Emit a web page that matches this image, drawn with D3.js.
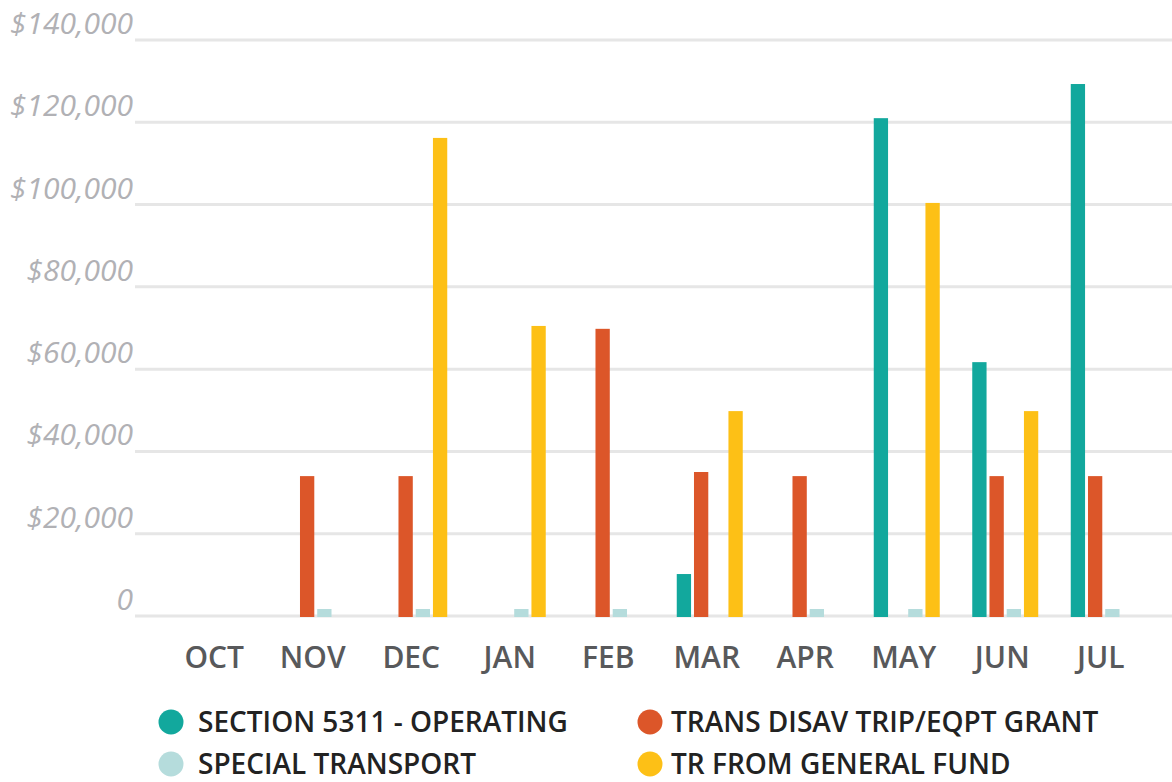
<!DOCTYPE html>
<html>
<head>
<meta charset="utf-8">
<script src="https://cdn.jsdelivr.net/npm/d3@7"></script>
<style>
  html, body { margin: 0; padding: 0; background: #fff; }
  svg { display: block; }
  .ytick { font-family: "Open Sans", sans-serif; font-style: italic; font-size: 30px; fill: #b1b1b5; }
  .xtick { font-family: "Open Sans", sans-serif; font-weight: 600; font-size: 30px; fill: #58595b; }
  .legend text { font-family: "Open Sans", sans-serif; font-weight: 600; font-size: 28px; fill: #222; }
</style>
</head>
<body>
<div id="chart"></div>
<script>
  // months on the x axis
  var months = ['OCT', 'NOV', 'DEC', 'JAN', 'FEB', 'MAR', 'APR', 'MAY', 'JUN', 'JUL'];

  // one array per funding source, same order as months
  var section5311 = [0, 0, 0, 0, 0, 10200, 0, 121000, 61700, 129300];
  var transDisav = [0, 34000, 34000, 0, 69800, 35000, 34000, 0, 34000, 34000];
  var specialTransport = [0, 1700, 1700, 1700, 1700, 0, 1700, 1700, 1700, 1700];
  var generalFund = [0, 0, 116200, 70500, 0, 49800, 0, 100400, 49800, 0];

  var seriesNames = ['SECTION 5311 - OPERATING', 'TRANS DISAV TRIP/EQPT GRANT', 'SPECIAL TRANSPORT', 'TR FROM GENERAL FUND'];
  var seriesColors = ['#12a89d', '#dc5629', '#b5dcdc', '#fdc016'];
  var yTicks = [0, 20000, 40000, 60000, 80000, 100000, 120000, 140000];

  var series = [section5311, transDisav, specialTransport, generalFund];

  var width = 1172, height = 782;
  var svg = d3.select('#chart').append('svg').attr('width', width).attr('height', height);

  var y = d3.scaleLinear().domain([0, 140000]).range([616, 40]);
  var x = d3.scaleBand().domain(months).range([168, 1153]).paddingInner(0.33).paddingOuter(0.165);
  var xInner = d3.scaleBand().domain(d3.range(series.length)).range([0, x.bandwidth()]).paddingInner(0.17);

  // gridlines
  svg.append('g').selectAll('line').data(yTicks).join('line')
      .attr('x1', 135).attr('x2', width)
      .attr('y1', function (d) { return y(d); })
      .attr('y2', function (d) { return y(d); })
      .attr('stroke', '#e6e6e6').attr('stroke-width', 3);

  // y labels sit a bit above their gridline
  var fmt = d3.format(',');
  svg.append('g').selectAll('text').data(yTicks).join('text')
      .attr('class', 'ytick')
      .attr('x', 133)
      .attr('y', function (d) { return y(d) - 6; })
      .attr('text-anchor', 'end')
      .text(function (d) { return d === 0 ? '0' : '$' + fmt(d); });

  // bars
  var groups = svg.append('g').selectAll('g').data(months).join('g')
      .attr('transform', function (m) { return 'translate(' + x(m) + ',0)'; });
  groups.selectAll('rect')
      .data(function (m, i) { return series.map(function (s, k) { return {k: k, v: s[i]}; }); })
      .join('rect')
      .filter(function (d) { return d.v > 0; })
      .attr('x', function (d) { return xInner(d.k); })
      .attr('width', xInner.bandwidth())
      .attr('y', function (d) { return y(d.v); })
      .attr('height', function (d) { return y(0) - y(d.v) + 1; })
      .attr('fill', function (d) { return seriesColors[d.k]; });

  // x labels
  svg.append('g').selectAll('text').data(months).join('text')
      .attr('class', 'xtick')
      .attr('x', function (m) { return x(m) + x.bandwidth() / 2 - 3; })
      .attr('y', 668)
      .attr('text-anchor', 'middle')
      .text(function (m) { return m; });

  // legend, two columns (second row nudged up so descenders stay inside)
  var legendPos = [[171, 722], [650, 722], [171, 764], [650, 764]];
  var legendOrder = [0, 1, 2, 3];
  var legend = svg.append('g').attr('class', 'legend').selectAll('g').data(legendOrder).join('g')
      .attr('transform', function (k, i) { return 'translate(' + legendPos[i][0] + ',' + legendPos[i][1] + ')'; });
  legend.append('circle').attr('r', 12.5).attr('fill', function (k) { return seriesColors[k]; });
  legend.append('text')
      .attr('x', function (k, i) { return i % 2 === 0 ? 27 : 21; })
      .attr('y', 10)
      .text(function (k) { return seriesNames[k]; });
</script>
</body>
</html>
